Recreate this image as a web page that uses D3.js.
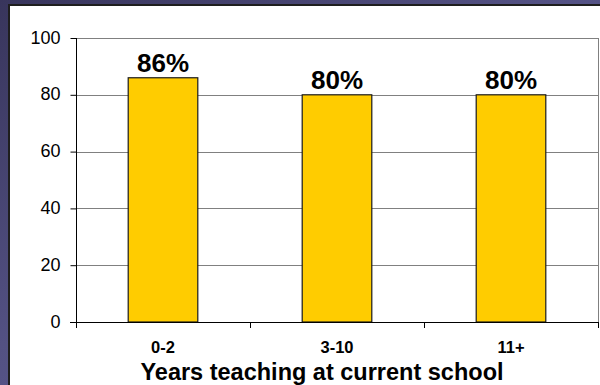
<!DOCTYPE html>
<html>
<head>
<meta charset="utf-8">
<script src="https://cdn.jsdelivr.net/npm/d3@7"></script>
<style>
  html, body { margin: 0; padding: 0; background: #4a4878; }
  svg { display: block; }
</style>
</head>
<body>
<svg id="chart" width="600" height="385"></svg>
<script>
// Share of teachers, by years teaching at their current school
const categories = ["0-2", "3-10", "11+"];
const values = [86, 80, 80];
const yTicks = [0, 20, 40, 60, 80, 100];
const axisTitle = "Years teaching at current school";

const W = 600, H = 385;
const svg = d3.select("#chart");

// slide background
const defs = svg.append("defs");
const grad = defs.append("linearGradient")
  .attr("id", "bg").attr("x1", 0).attr("y1", 0).attr("x2", 1).attr("y2", 1);
grad.append("stop").attr("offset", "0%").attr("stop-color", "#38355c");
grad.append("stop").attr("offset", "45%").attr("stop-color", "#535183");
grad.append("stop").attr("offset", "100%").attr("stop-color", "#6462a0");
svg.append("rect").attr("width", W).attr("height", H).attr("fill", "url(#bg)");

// white chart panel
svg.append("rect")
  .attr("x", 9).attr("y", 5).attr("width", W + 10).attr("height", H + 10)
  .attr("fill", "#ffffff").attr("stroke", "#1e1e1e").attr("stroke-width", 2);

const plot = { left: 76, right: 598, top: 38, bottom: 322 };

const x = d3.scaleBand()
  .domain(categories)
  .range([plot.left, plot.right])
  .paddingInner(0.6)
  .paddingOuter(0.3);

const y = d3.scaleLinear()
  .domain([0, 100])
  .range([plot.bottom, plot.top]);

const font = "'Liberation Sans', Arial, Helvetica, sans-serif";

// horizontal gridlines
svg.append("g")
  .selectAll("line")
  .data(yTicks.filter(d => d > 0))
  .join("line")
  .attr("x1", plot.left).attr("x2", plot.right)
  .attr("y1", d => Math.round(y(d)) + 0.5).attr("y2", d => Math.round(y(d)) + 0.5)
  .attr("stroke", "#808080").attr("stroke-width", 1);

// right border of plot area
svg.append("line")
  .attr("x1", plot.right + 0.5).attr("x2", plot.right + 0.5)
  .attr("y1", plot.top).attr("y2", plot.bottom)
  .attr("stroke", "#808080");

// bars
svg.append("g")
  .selectAll("rect")
  .data(values)
  .join("rect")
  .attr("x", (d, i) => x(categories[i]))
  .attr("y", d => y(d))
  .attr("width", x.bandwidth())
  .attr("height", d => y(0) - y(d))
  .attr("fill", "#ffcc00")
  .attr("stroke", "#1a1a1a")
  .attr("stroke-width", 1.2);

// value labels
svg.append("g")
  .selectAll("text")
  .data(values)
  .join("text")
  .attr("x", (d, i) => x(categories[i]) + x.bandwidth() / 2)
  .attr("y", d => y(d) - 6)
  .attr("text-anchor", "middle")
  .attr("font-family", font)
  .attr("font-weight", "bold")
  .attr("font-size", 26)
  .attr("fill", "#000")
  .text(d => d + "%");

// y axis
const yAxis = svg.append("g")
  .attr("transform", `translate(${plot.left + 0.5},0)`)
  .call(d3.axisLeft(y).tickValues(yTicks).tickSize(6).tickPadding(10).tickFormat(d3.format("d")));
yAxis.select(".domain").attr("stroke", "#000").attr("d", `M0,${plot.top}V${plot.bottom + 6}`);
yAxis.selectAll(".tick line").attr("stroke", "#000");
yAxis.selectAll(".tick text")
  .attr("font-family", font).attr("font-size", 18).attr("fill", "#000").attr("dy", "0.28em");

// x axis with tick marks on category boundaries
const xAxisG = svg.append("g");
xAxisG.append("line")
  .attr("x1", plot.left - 6).attr("x2", plot.right + 1)
  .attr("y1", plot.bottom + 0.5).attr("y2", plot.bottom + 0.5)
  .attr("stroke", "#000");
const boundaries = categories.map(c => x(c) + x.bandwidth() / 2 + x.step() / 2);
xAxisG.selectAll("line.bt")
  .data(boundaries)
  .join("line")
  .attr("class", "bt")
  .attr("x1", d => Math.round(d) + 0.5).attr("x2", d => Math.round(d) + 0.5)
  .attr("y1", plot.bottom).attr("y2", plot.bottom + 6)
  .attr("stroke", "#000");

// category labels
svg.append("g")
  .selectAll("text")
  .data(categories)
  .join("text")
  .attr("x", d => x(d) + x.bandwidth() / 2)
  .attr("y", 353)
  .attr("text-anchor", "middle")
  .attr("font-family", font)
  .attr("font-weight", "bold")
  .attr("font-size", 16.5)
  .attr("fill", "#000")
  .text(d => d);

// axis title
svg.append("text")
  .attr("x", 322)
  .attr("y", 379.5)
  .attr("text-anchor", "middle")
  .attr("font-family", font)
  .attr("font-weight", "bold")
  .attr("font-size", 23.5)
  .attr("fill", "#000")
  .text(axisTitle);
</script>
</body>
</html>
